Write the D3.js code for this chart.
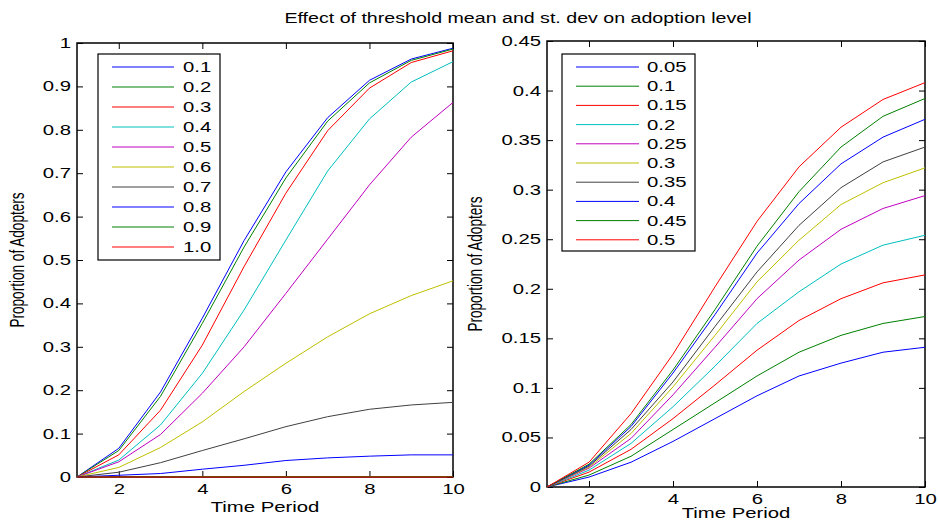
<!DOCTYPE html>
<html lang="en">
  <head>
    <meta charset="UTF-8" />
    <title>Effect of threshold mean and st. dev on adoption level</title>
    <style>
      body { margin: 0; background: #fff; }
      svg { display: block; font-family: "Liberation Sans", Arial, sans-serif; }
      .tick line { stroke: #000; }
      .domain { display: none; }
    </style>
  </head>
  <body>
    <svg width="938" height="521"></svg>
    <script src="https://d3js.org/d3.v7.min.js"></script>
    <script>
      // time axis
      const timePeriods = [1, 2, 3, 4, 5, 6, 7, 8, 9, 10];
      const xTicks = [2, 4, 6, 8, 10];

      // left panel: threshold mean
      const meanLabels = ["0.1", "0.2", "0.3", "0.4", "0.5", "0.6", "0.7", "0.8", "0.9", "1.0"];
      const meanValues = [
        [0, 0.066, 0.196, 0.366, 0.545, 0.703, 0.828, 0.914, 0.963, 0.988],
        [0, 0.061, 0.186, 0.354, 0.530, 0.689, 0.820, 0.908, 0.960, 0.986],
        [0, 0.051, 0.154, 0.304, 0.485, 0.654, 0.798, 0.896, 0.955, 0.982],
        [0, 0.039, 0.120, 0.239, 0.385, 0.546, 0.705, 0.825, 0.910, 0.957],
        [0, 0.035, 0.098, 0.193, 0.300, 0.423, 0.548, 0.673, 0.783, 0.863],
        [0, 0.022, 0.068, 0.127, 0.197, 0.262, 0.323, 0.376, 0.418, 0.452],
        [0, 0.011, 0.033, 0.061, 0.088, 0.116, 0.139, 0.156, 0.166, 0.172],
        [0, 0.004, 0.008, 0.018, 0.027, 0.038, 0.044, 0.048, 0.051, 0.051],
        [0, 0, 0.001, 0.001, 0.001, 0.001, 0.001, 0.001, 0.001, 0.001],
        [0, 0, 0, 0, 0, 0, 0, 0, 0, 0]
      ];
      const meanTicks = [0, 0.1, 0.2, 0.3, 0.4, 0.5, 0.6, 0.7, 0.8, 0.9, 1];

      // right panel: threshold st. dev
      const sdLabels = ["0.05", "0.1", "0.15", "0.2", "0.25", "0.3", "0.35", "0.4", "0.45", "0.5"];
      const sdValues = [
        [0, 0.010, 0.025, 0.046, 0.069, 0.092, 0.112, 0.125, 0.136, 0.141],
        [0, 0.012, 0.031, 0.058, 0.085, 0.112, 0.136, 0.153, 0.165, 0.172],
        [0, 0.015, 0.038, 0.069, 0.103, 0.138, 0.168, 0.190, 0.206, 0.214],
        [0, 0.017, 0.044, 0.081, 0.122, 0.165, 0.197, 0.225, 0.244, 0.254],
        [0, 0.019, 0.049, 0.093, 0.141, 0.190, 0.229, 0.260, 0.281, 0.294],
        [0, 0.020, 0.054, 0.101, 0.153, 0.207, 0.249, 0.285, 0.307, 0.322],
        [0, 0.021, 0.058, 0.106, 0.162, 0.217, 0.264, 0.302, 0.328, 0.343],
        [0, 0.022, 0.061, 0.115, 0.174, 0.236, 0.286, 0.326, 0.353, 0.371],
        [0, 0.023, 0.063, 0.118, 0.179, 0.243, 0.298, 0.343, 0.374, 0.392],
        [0, 0.025, 0.074, 0.134, 0.202, 0.268, 0.323, 0.363, 0.391, 0.408]
      ];
      const sdTicks = [0, 0.05, 0.1, 0.15, 0.2, 0.25, 0.3, 0.35, 0.4, 0.45];

      // matlab default color order
      const lineColors = ["#0000ff", "#008000", "#ff0000", "#00bfbf", "#bf00bf", "#bfbf00", "#404040"];

      const svg = d3.select("svg");
      const STRETCH = 1.45;

      // the picture is wider than normal text, so widen glyphs
      function widen(sel, k) {
        sel.each(function () {
          const w = this.getComputedTextLength();
          d3.select(this).attr("textLength", w * (k || STRETCH)).attr("lengthAdjust", "spacingAndGlyphs");
        });
      }

      function panel(opt) {
        const x = d3.scaleLinear().domain([1, 10]).range([opt.left, opt.right]);
        const y = d3.scaleLinear().domain(opt.yDomain).range([opt.bottom, opt.top]);
        const g = svg.append("g");

        // box first, lines go over it
        g.append("rect")
          .attr("x", opt.left).attr("y", opt.top)
          .attr("width", opt.right - opt.left).attr("height", opt.bottom - opt.top)
          .attr("fill", "none").attr("stroke", "#000").attr("stroke-width", 1.5);

        // axes, ticks pointing inside
        const fmt = d3.format("");
        const bottom = g.append("g").attr("transform", "translate(0," + opt.bottom + ")")
          .call(d3.axisBottom(x).tickValues(xTicks).tickSizeInner(-6).tickSizeOuter(0).tickPadding(opt.xPad));
        g.append("g").attr("transform", "translate(0," + opt.top + ")")
          .call(d3.axisTop(x).tickValues(xTicks).tickSizeInner(-6).tickSizeOuter(0).tickFormat(""));
        const left = g.append("g").attr("transform", "translate(" + opt.left + ",0)")
          .call(d3.axisLeft(y).tickValues(opt.yTicks).tickSizeInner(-6).tickSizeOuter(0).tickPadding(6).tickFormat(fmt));
        g.append("g").attr("transform", "translate(" + opt.right + ",0)")
          .call(d3.axisRight(y).tickValues(opt.yTicks).tickSizeInner(-6).tickSizeOuter(0).tickFormat(""));
        g.selectAll(".tick text").attr("font-size", 14).attr("font-family", "Liberation Sans, Arial, sans-serif").attr("fill", "#000");
        widen(bottom.selectAll("text"));
        widen(left.selectAll("text"));

        // lines
        const line = d3.line().x((d, i) => x(timePeriods[i])).y(d => y(d));
        g.selectAll(".series")
          .data(opt.values)
          .enter()
          .append("path")
          .attr("d", line)
          .attr("fill", "none")
          .attr("stroke", (d, i) => lineColors[i % lineColors.length])
          .attr("stroke-width", 1);

        // axis labels
        const xl = g.append("text")
          .attr("x", (opt.left + opt.right) / 2).attr("y", opt.xLabelY)
          .attr("text-anchor", "middle").attr("font-size", 14)
          .text("Time Period");
        widen(xl);
        g.append("text")
          .attr("transform", "translate(" + opt.yLabelX + "," + (opt.top + opt.bottom) / 2 + ") scale(" + STRETCH + ",1) rotate(-90)")
          .attr("text-anchor", "middle").attr("font-size", 13.6)
          .text("Proportion of Adopters");

        // legend
        const lg = opt.legend;
        g.append("rect")
          .attr("x", lg.x).attr("y", lg.y).attr("width", lg.w).attr("height", lg.h)
          .attr("fill", "#fff").attr("stroke", "#000").attr("stroke-width", 1.2);
        const items = g.selectAll(".leg").data(opt.labels).enter().append("g")
          .attr("transform", (d, i) => "translate(0," + (lg.y0 + i * lg.step) + ")");
        items.append("line")
          .attr("x1", lg.x1).attr("x2", lg.x2)
          .attr("stroke", (d, i) => lineColors[i % lineColors.length]).attr("stroke-width", 1);
        const lt = items.append("text")
          .attr("x", lg.tx).attr("dy", "0.36em").attr("font-size", 14)
          .text(d => d);
        widen(lt);
      }

      panel({
        left: 77, right: 453, top: 43, bottom: 477,
        yDomain: [0, 1], yTicks: meanTicks, values: meanValues, labels: meanLabels,
        xPad: 7, xLabelY: 512, yLabelX: 24,
        legend: { x: 98, y: 54, w: 122, h: 206, y0: 67, step: 20, x1: 112, x2: 174, tx: 183 }
      });

      panel({
        left: 547, right: 925, top: 41, bottom: 487,
        yDomain: [0, 0.45], yTicks: sdTicks, values: sdValues, labels: sdLabels,
        xPad: 7, xLabelY: 518, yLabelX: 482,
        legend: { x: 562, y: 54, w: 133, h: 197, y0: 67, step: 19.2, x1: 576, x2: 639, tx: 647 }
      });

      const title = svg.append("text")
        .attr("x", 518).attr("y", 23)
        .attr("text-anchor", "middle").attr("font-size", 14)
        .text("Effect of threshold mean and st. dev on adoption level");
      widen(title, 1.4);
    </script>
  </body>
</html>
